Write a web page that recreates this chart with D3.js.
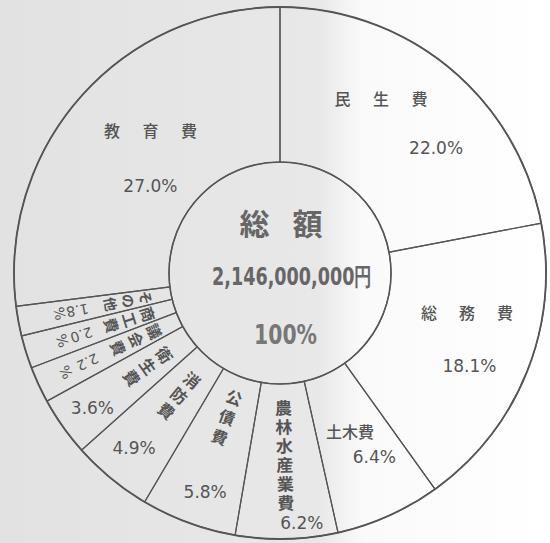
<!DOCTYPE html>
<html>
<head>
<meta charset="utf-8">
<script src="https://cdn.jsdelivr.net/npm/d3@7"></script>
<style>
body { margin: 0; background: #fff; }
svg { display: block; }
</style>
</head>
<body>
<svg></svg>
<script>
// budget shares, clockwise from 12 o'clock
var names = ["民生費", "総務費", "土木費", "農林水産業費", "公債費", "消防費", "衛生費", "議会費", "商工費", "その他", "教育費"];
var shares = [22.0, 18.1, 6.4, 6.2, 5.8, 4.9, 3.6, 2.2, 2.0, 1.8, 27.0];
var pctLabels = ["22.0%", "18.1%", "6.4%", "6.2%", "5.8%", "4.9%", "3.6%", "2.2", "2.0", "1.8", "27.0%"];
var totalLines = ["総額", "2,146,000,000円", "100%"];

var w = 550, h = 543,
    cx = 280, cy = 273,
    rIn = 111, rOut = 266,
    ink = "#555";

// where labels sit: [angle deg from top, radius]
var flatSpots = {
	"民生費": {t: [30.0, 202], p: [51.3, 200], spread: 38.5},
	"総務費": {t: [101.8, 191], p: [116.1, 211], spread: 38},
	"教育費": {t: [317.9, 193], p: [303.8, 156], spread: 38.5},
	"土木費": {t: [156.1, 173], p: [152.9, 207], spread: 0}
};
var radialSpots = {
	"農林水産業費": {r0: 134, step: 19, size: 17, p: [175.0, 251]},
	"公債費": {r0: 132, step: 21, size: 16, p: [198.9, 231]},
	"消防費": {r0: 138, step: 20, size: 16, p: [219.8, 228]},
	"衛生費": {r0: 141, step: 20, size: 16, p: [234.3, 231]},
	"議会費": {r0: 138, step: 20, size: 15, pr: [212, 236]},
	"商工費": {r0: 138, step: 19, size: 15, pr: [208, 228]},
	"その他": {r0: 136, step: 18, size: 14, pr: [206, 224]}
};

var svg = d3.select("svg")
	.attr("width", w)
	.attr("height", h);

var grad = svg.append("defs").append("linearGradient")
	.attr("id", "paper")
	.attr("x1", 0).attr("x2", 1).attr("y1", 0).attr("y2", 0);
grad.append("stop").attr("offset", 0).attr("stop-color", "#e2e2e2");
grad.append("stop").attr("offset", 0.58).attr("stop-color", "#e8e8e8");
grad.append("stop").attr("offset", 0.66).attr("stop-color", "#fafafa");
grad.append("stop").attr("offset", 1).attr("stop-color", "#ffffff");

svg.append("rect")
	.attr("width", w)
	.attr("height", h)
	.attr("fill", "url(#paper)");

var pie = d3.pie().sort(null).value(function(d) { return d; });
var arcs = pie(shares);

var arc = d3.arc().innerRadius(rIn).outerRadius(rOut);

var g = svg.append("g")
	.attr("transform", "translate(" + cx + "," + cy + ")");

g.selectAll("path.slice")
	.data(arcs)
	.join("path")
	.attr("class", "slice")
	.attr("d", arc)
	.attr("fill", "none")
	.attr("stroke", ink)
	.attr("stroke-width", 1.2);

g.append("circle").attr("r", rOut).attr("fill", "none").attr("stroke", ink).attr("stroke-width", 1.8);
g.append("circle").attr("r", rIn).attr("fill", "none").attr("stroke", ink).attr("stroke-width", 1.5);

function polar(a, r) {
	var t = a * Math.PI / 180;
	return [r * Math.sin(t), -r * Math.cos(t)];
}

function put(sel, xy, txt, size, rot) {
	return sel.append("text")
		.attr("transform", "translate(" + xy[0] + "," + xy[1] + ")" + (rot ? " rotate(" + rot + ")" : ""))
		.attr("text-anchor", "middle")
		.attr("dominant-baseline", "central")
		.attr("font-size", size)
		.attr("fill", ink)
		.text(txt);
}

var jp = "'Noto Sans CJK JP', 'Noto Sans', sans-serif";
var num = "'DejaVu Sans', sans-serif";

arcs.forEach(function(d, i) {
	var name = names[i];
	var mid = (d.startAngle + d.endAngle) / 2 * 180 / Math.PI;
	if (flatSpots[name]) {
		var s = flatSpots[name];
		var c = polar(s.t[0], s.t[1]);
		if (s.spread) {
			name.split("").forEach(function(ch, k) {
				put(g, [c[0] + (k - 1) * s.spread, c[1]], ch, 16).attr("font-family", jp).attr("font-weight", 500);
			});
		} else {
			put(g, c, name, 16).attr("font-family", jp).attr("font-weight", 500);
		}
		put(g, polar(s.p[0], s.p[1]), pctLabels[i], 17).attr("font-family", num);
	} else if (radialSpots[name]) {
		var q = radialSpots[name];
		var rot = mid - 180;
		name.split("").forEach(function(ch, k) {
			put(g, polar(mid, q.r0 + k * q.step), ch, q.size, rot).attr("font-family", jp).attr("font-weight", 700);
		});
		if (q.p) {
			put(g, polar(q.p[0], q.p[1]), pctLabels[i], 17).attr("font-family", num);
		} else {
			put(g, polar(mid, q.pr[0]), pctLabels[i], 14, rot + 90).attr("font-family", num);
			put(g, polar(mid, q.pr[1]), "%", 14, rot).attr("font-family", num);
		}
	}
});

// centre text
var mid = svg.append("g")
	.attr("transform", "translate(" + cx + "," + cy + ")")
	.attr("font-weight", "bold");

totalLines[0].split("").forEach(function(ch, k) {
	put(mid, [(k - 0.5) * 53 + 1, -51], ch, 30).attr("font-family", jp).attr("fill", "#666");
});
put(mid, [12, 4], totalLines[1], 24)
	.attr("font-family", num)
	.attr("fill", "#666")
	.attr("textLength", 160)
	.attr("lengthAdjust", "spacingAndGlyphs")
	.attr("x", -80)
	.attr("text-anchor", "start");
put(mid, [6, 62], totalLines[2], 26)
	.attr("font-family", num)
	.attr("fill", "#777")
	.attr("textLength", 63)
	.attr("lengthAdjust", "spacingAndGlyphs")
	.attr("x", -32)
	.attr("text-anchor", "start");
</script>
</body>
</html>
